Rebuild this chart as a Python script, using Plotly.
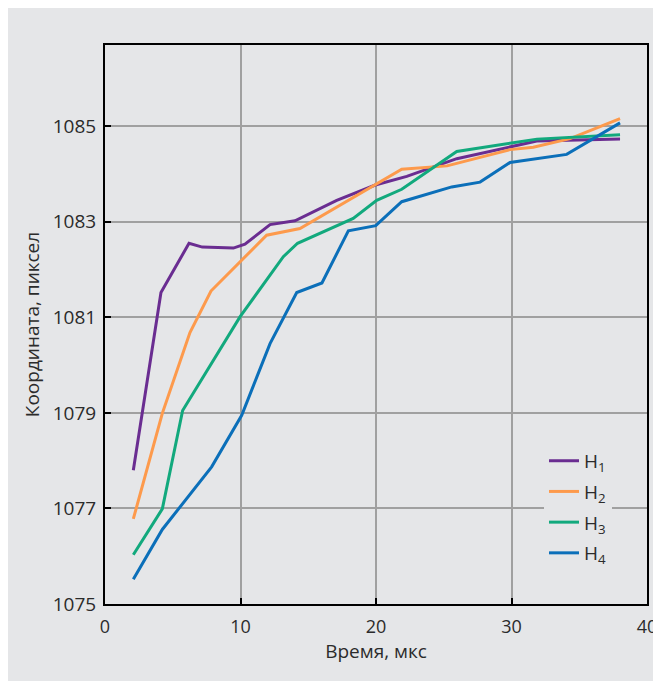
import plotly.graph_objects as go

# Time (µs) and coordinate (pixel) data per series
h1_x = [2.09, 4.13, 6.20, 7.18, 9.47, 10.33, 12.18, 14.02, 17.10, 19.95, 22.27, 25.96, 31.86, 38.01]
h1_y = [1077.80, 1081.52, 1082.55, 1082.47, 1082.45, 1082.53, 1082.94, 1083.02, 1083.45, 1083.77, 1083.95, 1084.32, 1084.69, 1084.73]

h2_x = [2.09, 4.23, 6.27, 7.82, 11.93, 14.39, 21.90, 25.24, 29.89, 31.61, 34.32, 38.01]
h2_y = [1076.78, 1078.99, 1080.68, 1081.55, 1082.72, 1082.86, 1084.10, 1084.17, 1084.51, 1084.56, 1084.74, 1085.16]

h3_x = [2.09, 4.23, 5.73, 9.96, 13.16, 14.21, 18.32, 20.05, 21.90, 25.96, 31.88, 38.01]
h3_y = [1076.03, 1076.99, 1079.05, 1081.01, 1082.27, 1082.55, 1083.07, 1083.45, 1083.68, 1084.47, 1084.73, 1084.82]

h4_x = [2.09, 4.23, 7.87, 10.09, 12.18, 14.15, 16.01, 17.96, 19.98, 21.90, 25.59, 27.68, 29.89, 34.07, 38.01]
h4_y = [1075.52, 1076.56, 1077.87, 1078.95, 1080.45, 1081.52, 1081.72, 1082.81, 1082.92, 1083.42, 1083.73, 1083.83, 1084.24, 1084.41, 1085.07]

names = ["H<sub>1</sub>", "H<sub>2</sub>", "H<sub>3</sub>", "H<sub>4</sub>"]
colors = ["#6a2d91", "#fd9a4c", "#12a97d", "#0b6fb9"]

x_ticks = [0, 10, 20, 30, 40]
y_ticks = [1075, 1077, 1079, 1081, 1083, 1085]

GREY = "#e5e6e8"
TXT = "#2b2b2b"
FONT = "Open Sans"

fig = go.Figure()
for i, (xs, ys, nm, col) in enumerate(zip([h1_x, h2_x, h3_x, h4_x], [h1_y, h2_y, h3_y, h4_y], names, colors)):
    fig.add_trace(go.Scatter(x=xs, y=ys, mode="lines", name=nm, legendgroup=f"g{i}",
                             line=dict(color=col, width=3)))

fig.update_layout(
    width=661, height=681,
    margin=dict(l=97, r=22, t=37, b=85),
    paper_bgcolor=GREY, plot_bgcolor=GREY,
    font=dict(family=FONT, size=18, color=TXT),
    showlegend=True,
    legend=dict(x=0.81, y=0.29, xanchor="left", yanchor="top",
                bgcolor=GREY, borderwidth=0, tracegroupgap=3,
                font=dict(family=FONT, size=19, color=TXT),
                itemwidth=30),
)

fig.update_xaxes(
    range=[0, 40], tickvals=x_ticks, ticktext=[str(v) for v in x_ticks],
    showgrid=True, gridcolor="#a0a0a0", gridwidth=1.5,
    showline=True, linecolor="black", linewidth=2, mirror=True,
    ticks="inside", ticklen=6, tickwidth=2, tickcolor="black",
    zeroline=False, ticklabelstandoff=5,
    title=dict(text="Время, мкс", font=dict(family=FONT, size=19, color=TXT), standoff=6),
    tickfont=dict(family=FONT, size=18, color=TXT),
)
fig.update_yaxes(
    range=[1075, 1086.7], tickvals=y_ticks, ticktext=[str(v) for v in y_ticks],
    showgrid=True, gridcolor="#a0a0a0", gridwidth=1.5,
    showline=True, linecolor="black", linewidth=2, mirror=True,
    ticks="inside", ticklen=6, tickwidth=2, tickcolor="black",
    zeroline=False, ticklabelstandoff=3,
    title=dict(text="Координата, пиксел", font=dict(family=FONT, size=19, color=TXT), standoff=8),
    tickfont=dict(family=FONT, size=19, color=TXT),
)

fig.write_html("out.html")
